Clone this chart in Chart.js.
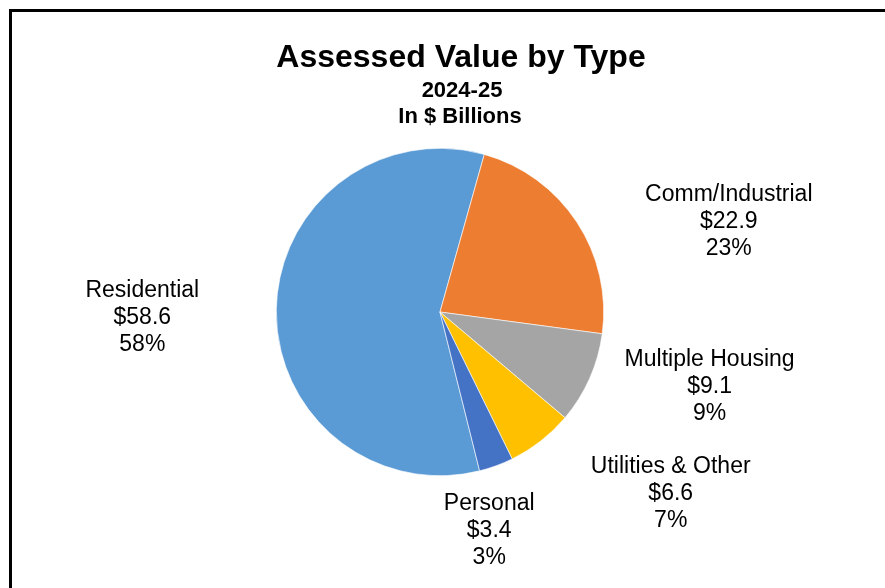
<!DOCTYPE html>
<html>
<head>
<meta charset="utf-8">
<script src="https://cdn.jsdelivr.net/npm/chart.js@4"></script>
<style>
  html, body { margin: 0; padding: 0; background: #fff; overflow: hidden; }
  #wrap { position: relative; width: 885px; height: 588px; }
  #frame { position: absolute; left: 9px; top: 9px; width: 900px; height: 620px;
           border: 3px solid #000; box-sizing: border-box; pointer-events: none; }
  canvas { position: absolute; left: 0; top: 0; }
</style>
</head>
<body>
<div id="wrap">
  <canvas id="c" width="885" height="588"></canvas>
  <div id="frame"></div>
</div>
<script>
// Assessed value by property type, 2024-25, in $ billions
const categories = ['Residential', 'Comm/Industrial', 'Multiple Housing', 'Utilities & Other', 'Personal'];
const values = [58.6, 22.9, 9.1, 6.6, 3.4];
const colors = ['#5B9BD5', '#ED7D31', '#A5A5A5', '#FFC000', '#4472C4'];
const titleLines = ['Assessed Value by Type', '2024-25', 'In $ Billions'];

// Where each label block sits, relative to the outer edge of its slice at mid-angle
const labelOffsets = [[-134, 7], [152, -1], [120, 7], [130, 52], [-7, 64]];

const total = values.reduce((a, b) => a + b, 0);

const textPlugin = {
  id: 'pieText',
  afterDraw(chart) {
    const ctx = chart.ctx;
    ctx.save();
    ctx.fillStyle = '#000';
    ctx.textAlign = 'center';
    ctx.textBaseline = 'middle';

    // Titles
    ctx.font = 'bold 32px "Liberation Sans", Arial, sans-serif';
    ctx.fillText(titleLines[0], 461, 58);
    ctx.font = 'bold 22px "Liberation Sans", Arial, sans-serif';
    ctx.fillText(titleLines[1], 462, 91);
    ctx.fillText(titleLines[2], 460, 117);

    // Slice labels: name, value, percent
    ctx.font = '23px "Liberation Sans", Arial, sans-serif';
    const meta = chart.getDatasetMeta(0);
    meta.data.forEach((arc, i) => {
      const p = arc.getProps(['x', 'y', 'startAngle', 'endAngle', 'outerRadius'], true);
      const mid = (p.startAngle + p.endAngle) / 2;
      const ex = p.x + Math.cos(mid) * p.outerRadius;
      const ey = p.y + Math.sin(mid) * p.outerRadius;
      const cx = ex + labelOffsets[i][0];
      const cy = ey + labelOffsets[i][1];
      const pct = Math.round(values[i] / total * 100) + '%';
      const lines = [categories[i], '$' + values[i].toFixed(1), pct];
      const lh = 27;
      lines.forEach((t, k) => ctx.fillText(t, cx, cy + (k - 1) * lh + 1));
    });
    ctx.restore();
  }
};

new Chart(document.getElementById('c'), {
  type: 'pie',
  data: {
    labels: categories,
    datasets: [{
      data: values,
      backgroundColor: colors,
      borderColor: '#ffffff',
      borderWidth: 0.6
    }]
  },
  options: {
    responsive: false,
    animation: false,
    rotation: 166,
    layout: { padding: { left: 276, right: 281, top: 148, bottom: 112 } },
    plugins: {
      legend: { display: false },
      title: { display: false },
      tooltip: { enabled: false }
    }
  },
  plugins: [textPlugin]
});
</script>
</body>
</html>
